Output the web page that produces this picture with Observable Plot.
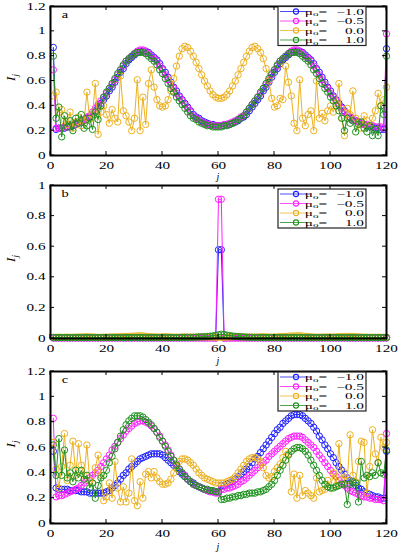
<!DOCTYPE html>
<html><head><meta charset="utf-8">
<script src="https://cdn.jsdelivr.net/npm/d3@7"></script>
<script src="https://cdn.jsdelivr.net/npm/@observablehq/plot@0.6"></script>
<style>body{margin:0;background:#fff;} #chart svg{display:block;}</style>
</head><body><div id="chart"></div>
<script>
const seriesNames = ["\u22121.0", "\u22120.5", "0.0", "1.0"];
const seriesColors = ["#2020ff", "#ff20ff", "#EDB120", "#1f921f"];
const xTicks = [0, 20, 40, 60, 80, 100, 120];
const yTicksAC = [0, 0.2, 0.4, 0.6, 0.8, 1, 1.2];
const yTicksB = [0, 0.2, 0.4, 0.6, 0.8, 1];
const panelLetters = ["a", "b", "c"];

// Panel a
const aBlue = [0.87,0.21,0.22,0.22,0.22,0.23,0.23,0.24,0.25,0.26,
 0.27,0.28,0.30,0.31,0.33,0.36,0.39,0.42,0.45,0.48,
 0.52,0.55,0.59,0.63,0.67,0.70,0.74,0.77,0.79,0.81,
 0.83,0.84,0.84,0.84,0.83,0.81,0.79,0.77,0.74,0.70,
 0.67,0.63,0.59,0.55,0.52,0.48,0.45,0.42,0.39,0.36,
 0.33,0.31,0.30,0.28,0.27,0.26,0.25,0.25,0.24,0.24,
 0.24,0.24,0.25,0.25,0.26,0.27,0.28,0.30,0.31,0.33,
 0.36,0.39,0.42,0.45,0.48,0.52,0.55,0.59,0.63,0.67,
 0.70,0.74,0.77,0.79,0.81,0.83,0.84,0.84,0.84,0.83,
 0.81,0.79,0.77,0.74,0.70,0.67,0.63,0.59,0.55,0.52,
 0.48,0.45,0.42,0.39,0.36,0.33,0.31,0.30,0.28,0.27,
 0.26,0.25,0.24,0.23,0.23,0.22,0.22,0.21,0.21,0.86];
const aMagenta = [0.69,0.22,0.22,0.22,0.23,0.23,0.24,0.25,0.26,0.27,
 0.28,0.29,0.31,0.32,0.35,0.38,0.41,0.44,0.47,0.50,
 0.54,0.57,0.61,0.65,0.69,0.72,0.76,0.78,0.80,0.82,
 0.84,0.85,0.85,0.84,0.82,0.80,0.78,0.76,0.72,0.69,
 0.65,0.61,0.57,0.54,0.50,0.47,0.44,0.41,0.38,0.35,
 0.32,0.30,0.29,0.27,0.26,0.25,0.25,0.24,0.24,0.24,
 0.24,0.25,0.25,0.26,0.27,0.28,0.29,0.31,0.32,0.35,
 0.38,0.41,0.44,0.47,0.50,0.54,0.57,0.61,0.65,0.69,
 0.72,0.76,0.78,0.80,0.82,0.84,0.85,0.85,0.84,0.82,
 0.80,0.78,0.76,0.72,0.69,0.65,0.61,0.57,0.54,0.50,
 0.47,0.44,0.41,0.38,0.35,0.33,0.31,0.29,0.28,0.27,
 0.26,0.25,0.25,0.24,0.24,0.23,0.23,0.23,0.22,0.98];
const aOrange = [0.48,0.51,0.35,0.37,0.28,0.25,0.35,0.22,0.27,0.31,
 0.24,0.28,0.51,0.29,0.33,0.58,0.17,0.35,0.40,0.33,
 0.26,0.37,0.30,0.27,0.64,0.36,0.32,0.27,0.20,0.30,
 0.61,0.20,0.47,0.25,0.58,0.69,0.55,0.45,0.40,0.39,
 0.40,0.45,0.52,0.62,0.72,0.80,0.86,0.88,0.87,0.84,
 0.80,0.75,0.70,0.65,0.60,0.56,0.52,0.49,0.47,0.46,
 0.46,0.47,0.49,0.52,0.56,0.60,0.65,0.70,0.75,0.80,
 0.84,0.87,0.88,0.86,0.83,0.78,0.70,0.60,0.46,0.39,
 0.40,0.46,0.45,0.72,0.59,0.48,0.26,0.20,0.61,0.30,
 0.24,0.33,0.36,0.20,0.60,0.30,0.34,0.28,0.36,0.40,
 0.35,0.42,0.58,0.30,0.16,0.38,0.33,0.52,0.30,0.25,
 0.22,0.32,0.28,0.24,0.30,0.36,0.50,0.40,0.45,0.55];
const aGreen = [0.80,0.30,0.39,0.15,0.32,0.23,0.28,0.20,0.30,0.26,
 0.33,0.22,0.24,0.30,0.21,0.35,0.29,0.40,0.47,0.51,
 0.54,0.58,0.62,0.66,0.69,0.73,0.76,0.78,0.80,0.82,
 0.83,0.83,0.83,0.82,0.80,0.78,0.76,0.73,0.69,0.66,
 0.62,0.58,0.54,0.51,0.47,0.44,0.41,0.38,0.35,0.32,
 0.30,0.29,0.27,0.26,0.25,0.24,0.24,0.23,0.23,0.23,
 0.23,0.24,0.24,0.25,0.26,0.27,0.29,0.30,0.32,0.35,
 0.38,0.41,0.44,0.47,0.51,0.54,0.58,0.62,0.66,0.69,
 0.73,0.76,0.78,0.80,0.82,0.83,0.83,0.83,0.82,0.80,
 0.78,0.76,0.73,0.69,0.66,0.62,0.58,0.54,0.51,0.47,
 0.44,0.40,0.36,0.30,0.20,0.30,0.26,0.28,0.19,0.25,
 0.27,0.22,0.19,0.24,0.16,0.21,0.16,0.40,0.33,0.80];

// Panel b
const bBlue = [0.005,0.005,0.005,0.005,0.005,0.005,0.005,0.005,0.005,0.005,
 0.005,0.005,0.005,0.005,0.005,0.005,0.005,0.005,0.005,0.005,
 0.005,0.005,0.005,0.005,0.005,0.005,0.005,0.005,0.005,0.005,
 0.005,0.005,0.005,0.005,0.005,0.005,0.005,0.005,0.005,0.005,
 0.005,0.005,0.005,0.005,0.005,0.005,0.005,0.005,0.005,0.005,
 0.005,0.005,0.005,0.005,0.005,0.005,0.005,0.005,0.004,0.58,
 0.58,0.004,0.005,0.005,0.005,0.005,0.005,0.005,0.005,0.005,
 0.005,0.005,0.005,0.005,0.005,0.005,0.005,0.005,0.005,0.005,
 0.005,0.005,0.005,0.005,0.005,0.005,0.005,0.005,0.005,0.005,
 0.005,0.005,0.005,0.005,0.005,0.005,0.005,0.005,0.005,0.005,
 0.005,0.005,0.005,0.005,0.005,0.005,0.005,0.005,0.005,0.005,
 0.005,0.005,0.005,0.005,0.005,0.005,0.005,0.005,0.005,0.005];
const bMagenta = [0.003,0.003,0.003,0.003,0.003,0.003,0.003,0.003,0.003,0.003,
 0.003,0.003,0.003,0.003,0.003,0.003,0.003,0.003,0.003,0.003,
 0.003,0.003,0.003,0.003,0.003,0.003,0.003,0.003,0.003,0.003,
 0.003,0.003,0.003,0.003,0.003,0.003,0.003,0.003,0.003,0.003,
 0.003,0.003,0.003,0.003,0.003,0.003,0.003,0.003,0.003,0.003,
 0.003,0.003,0.003,0.003,0.003,0.003,0.003,0.003,0.002,0.91,
 0.91,0.002,0.003,0.003,0.003,0.003,0.003,0.003,0.003,0.003,
 0.003,0.003,0.003,0.003,0.003,0.003,0.003,0.003,0.003,0.003,
 0.003,0.003,0.003,0.003,0.003,0.003,0.003,0.003,0.003,0.003,
 0.003,0.003,0.003,0.003,0.003,0.003,0.003,0.003,0.003,0.003,
 0.003,0.003,0.003,0.003,0.003,0.003,0.003,0.003,0.003,0.003,
 0.003,0.003,0.003,0.003,0.003,0.003,0.003,0.003,0.003,0.003];
const bOrange = [0.008,0.008,0.009,0.008,0.008,0.009,0.008,0.008,0.009,0.010,
 0.010,0.011,0.012,0.011,0.010,0.009,0.008,0.008,0.009,0.009,
 0.010,0.010,0.011,0.011,0.012,0.013,0.013,0.014,0.015,0.016,
 0.017,0.018,0.017,0.015,0.013,0.012,0.011,0.010,0.010,0.011,
 0.012,0.011,0.010,0.009,0.009,0.009,0.010,0.011,0.010,0.009,
 0.009,0.009,0.010,0.010,0.011,0.010,0.009,0.009,0.008,0.008,
 0.008,0.008,0.009,0.010,0.011,0.012,0.012,0.011,0.010,0.010,
 0.010,0.009,0.009,0.010,0.011,0.012,0.011,0.010,0.009,0.010,
 0.011,0.012,0.013,0.014,0.015,0.016,0.017,0.018,0.018,0.016,
 0.014,0.013,0.011,0.010,0.009,0.009,0.010,0.010,0.011,0.010,
 0.010,0.011,0.012,0.012,0.013,0.013,0.014,0.013,0.012,0.011,
 0.010,0.009,0.009,0.008,0.008,0.008,0.009,0.008,0.008,0.008];
const bGreen = [0.006,0.006,0.006,0.006,0.006,0.006,0.006,0.006,0.006,0.006,
 0.006,0.006,0.006,0.006,0.006,0.006,0.006,0.006,0.006,0.006,
 0.006,0.006,0.006,0.006,0.006,0.006,0.006,0.006,0.006,0.006,
 0.006,0.006,0.006,0.006,0.006,0.006,0.006,0.006,0.006,0.006,
 0.006,0.006,0.006,0.006,0.006,0.006,0.007,0.007,0.007,0.008,
 0.008,0.009,0.010,0.011,0.012,0.013,0.015,0.017,0.020,0.024,
 0.028,0.026,0.022,0.019,0.016,0.014,0.012,0.011,0.010,0.009,
 0.008,0.008,0.007,0.007,0.007,0.006,0.006,0.006,0.006,0.006,
 0.006,0.006,0.006,0.006,0.006,0.006,0.006,0.006,0.006,0.006,
 0.006,0.006,0.006,0.006,0.006,0.006,0.006,0.006,0.006,0.006,
 0.006,0.006,0.006,0.006,0.006,0.006,0.006,0.006,0.006,0.006,
 0.006,0.006,0.006,0.006,0.006,0.006,0.006,0.006,0.006,0.006];

// Panel c
const cBlue = [0.57,0.28,0.27,0.27,0.27,0.27,0.26,0.26,0.26,0.26,
 0.25,0.25,0.25,0.24,0.24,0.24,0.24,0.24,0.24,0.25,
 0.26,0.28,0.30,0.32,0.35,0.38,0.40,0.43,0.45,0.47,
 0.49,0.51,0.52,0.53,0.54,0.55,0.55,0.55,0.55,0.54,
 0.52,0.50,0.48,0.46,0.44,0.41,0.39,0.37,0.35,0.33,
 0.32,0.30,0.29,0.28,0.27,0.26,0.26,0.25,0.25,0.25,
 0.30,0.30,0.31,0.32,0.33,0.35,0.37,0.39,0.41,0.43,
 0.45,0.48,0.51,0.53,0.56,0.59,0.62,0.65,0.68,0.71,
 0.74,0.76,0.79,0.81,0.83,0.85,0.86,0.86,0.86,0.85,
 0.83,0.81,0.79,0.76,0.73,0.69,0.66,0.62,0.59,0.55,
 0.52,0.48,0.45,0.42,0.39,0.36,0.34,0.32,0.30,0.28,
 0.27,0.25,0.24,0.23,0.22,0.21,0.21,0.20,0.20,0.57];
const cMagenta = [0.83,0.21,0.22,0.22,0.23,0.24,0.25,0.26,0.27,0.28,
 0.30,0.32,0.34,0.36,0.38,0.40,0.42,0.45,0.48,0.51,
 0.54,0.58,0.61,0.64,0.67,0.70,0.73,0.75,0.77,0.79,
 0.80,0.81,0.81,0.80,0.79,0.77,0.75,0.72,0.69,0.65,
 0.62,0.58,0.54,0.50,0.47,0.43,0.40,0.38,0.35,0.33,
 0.31,0.30,0.29,0.28,0.27,0.26,0.25,0.25,0.24,0.24,
 0.27,0.27,0.28,0.28,0.29,0.30,0.31,0.33,0.34,0.36,
 0.38,0.40,0.42,0.44,0.46,0.48,0.50,0.53,0.55,0.57,
 0.59,0.61,0.63,0.65,0.67,0.68,0.69,0.69,0.69,0.68,
 0.66,0.64,0.62,0.60,0.57,0.54,0.51,0.48,0.45,0.42,
 0.39,0.37,0.34,0.32,0.30,0.28,0.26,0.25,0.24,0.23,
 0.22,0.21,0.21,0.20,0.20,0.19,0.19,0.19,0.18,0.71];
const cOrange = [0.64,0.43,0.28,0.45,0.71,0.34,0.46,0.65,0.38,0.63,
 0.46,0.38,0.62,0.34,0.32,0.44,0.54,0.38,0.18,0.21,
 0.32,0.20,0.49,0.28,0.17,0.29,0.17,0.24,0.51,0.18,
 0.14,0.33,0.20,0.39,0.41,0.36,0.41,0.36,0.33,0.31,
 0.31,0.32,0.35,0.40,0.45,0.49,0.51,0.51,0.50,0.48,
 0.46,0.43,0.40,0.38,0.36,0.35,0.34,0.33,0.32,0.32,
 0.32,0.32,0.33,0.34,0.35,0.37,0.40,0.43,0.46,0.49,
 0.51,0.52,0.52,0.51,0.49,0.44,0.38,0.36,0.37,0.41,
 0.44,0.47,0.52,0.57,0.55,0.25,0.39,0.20,0.38,0.22,
 0.26,0.24,0.22,0.20,0.36,0.25,0.26,0.27,0.34,0.28,
 0.40,0.30,0.63,0.35,0.40,0.34,0.70,0.38,0.33,0.49,
 0.65,0.64,0.24,0.45,0.74,0.55,0.48,0.68,0.60,0.64];
const cGreen = [0.62,0.38,0.67,0.38,0.58,0.36,0.40,0.33,0.42,0.36,
 0.42,0.35,0.38,0.28,0.32,0.20,0.30,0.36,0.38,0.42,
 0.48,0.53,0.59,0.64,0.69,0.74,0.78,0.81,0.83,0.85,
 0.85,0.85,0.84,0.82,0.80,0.78,0.75,0.72,0.68,0.65,
 0.61,0.57,0.53,0.50,0.46,0.43,0.40,0.37,0.35,0.33,
 0.31,0.30,0.29,0.28,0.27,0.27,0.26,0.26,0.25,0.25,
 0.19,0.19,0.20,0.20,0.21,0.21,0.22,0.22,0.23,0.23,
 0.24,0.24,0.24,0.25,0.25,0.26,0.27,0.29,0.31,0.34,
 0.38,0.42,0.46,0.50,0.54,0.57,0.59,0.60,0.60,0.59,
 0.57,0.54,0.50,0.46,0.42,0.38,0.34,0.31,0.29,0.28,
 0.28,0.29,0.30,0.31,0.31,0.15,0.31,0.33,0.32,0.17,
 0.49,0.36,0.38,0.37,0.40,0.38,0.48,0.40,0.39,0.58];

const FONT = "Liberation Serif, Times New Roman, serif";
const STRETCH = 1.6;

function stretch(nodes, k) {
  nodes.forEach(node => {
    const w = node.getComputedTextLength();
    if (w > 0) {
      node.setAttribute("textLength", (w * k).toFixed(1));
      node.setAttribute("lengthAdjust", "spacingAndGlyphs");
    }
  });
}

function panel({letter, series, yDomain, yTicks, height, mt, mb, legendDy, xLabelDy}) {
  const marks = [];
  series.forEach((arr, k) => {
    const rows = arr.map((v, i) => ({j: i + 1, v, s: seriesNames[k]}));
    marks.push(Plot.line(rows, {x: "j", y: "v", stroke: "s", strokeWidth: 1}));
    marks.push(Plot.dot(rows, {x: "j", y: "v", stroke: "s", r: 3.2, strokeWidth: 1, fill: "none"}));
  });
  marks.push(Plot.frame({stroke: "#000", strokeWidth: 2}));
  const plot = Plot.plot({
    width: 398, height, marginLeft: 50, marginRight: 12, marginTop: mt, marginBottom: mb,
    style: {fontFamily: FONT, fontSize: "9.5px", color: "#000", background: "#fff", overflow: "visible"},
    x: {domain: [0, 120], ticks: xTicks, tickSize: 0, tickPadding: 7, label: null},
    y: {domain: yDomain, ticks: yTicks, tickSize: 0, tickPadding: 5, tickFormat: d3.format("~g"), label: null},
    color: {domain: seriesNames, range: seriesColors},
    marks
  });
  document.getElementById("chart").appendChild(plot);
  const svg = d3.select(plot);
  svg.selectAll("text").attr("font-family", FONT).attr("font-size", 9.5).style("font-variant", "normal");
  stretch(svg.selectAll("text").nodes(), STRETCH);

  const xs = plot.scale("x"), ys = plot.scale("y");
  const [x0, x1] = xs.range;
  const [yb, yt] = ys.range;
  const g = svg.append("g").attr("stroke", "#000").attr("stroke-width", 1);
  xTicks.forEach(t => {
    const px = xs.apply(t);
    g.append("line").attr("x1", px).attr("x2", px).attr("y1", yb).attr("y2", yb - 4);
    g.append("line").attr("x1", px).attr("x2", px).attr("y1", yt).attr("y2", yt + 4);
  });
  yTicks.forEach(t => {
    const py = ys.apply(t);
    g.append("line").attr("x1", x0).attr("x2", x0 + 4).attr("y1", py).attr("y2", py);
    g.append("line").attr("x1", x1).attr("x2", x1 - 4).attr("y1", py).attr("y2", py);
  });
  // panel letter
  const pl = svg.append("text").attr("x", x0 + 15).attr("y", yt + 11.5).attr("font-family", FONT)
    .attr("font-size", 11).text(letter);
  stretch([pl.node()], 1.3);
  // x label
  svg.append("text").attr("x", (x0 + x1) / 2).attr("y", yb + xLabelDy).attr("text-anchor", "middle")
    .attr("font-family", FONT).attr("font-size", 10).attr("font-style", "italic").text("j");
  // y label
  const yl = svg.append("text").attr("transform", `translate(15,${(yb + yt) / 2 - 3}) rotate(-90)`)
    .attr("text-anchor", "middle").attr("font-family", FONT).attr("font-size", 13).attr("font-style", "italic");
  yl.append("tspan").text("I");
  yl.append("tspan").attr("dy", 3).attr("font-size", 9).text("j");
  // legend
  const lx = x1 - 108, ly = yt + legendDy, lw = 88, lh = 39;
  const lg = svg.append("g");
  lg.append("rect").attr("x", lx).attr("y", ly).attr("width", lw).attr("height", lh)
    .attr("fill", "#fff").attr("stroke", "#222").attr("stroke-width", 1.2);
  seriesNames.forEach((name, k) => {
    const cy = ly + 5 + k * 9.5;
    lg.append("line").attr("x1", lx + 2).attr("x2", lx + 32).attr("y1", cy).attr("y2", cy)
      .attr("stroke", seriesColors[k]).attr("stroke-width", 1).attr("stroke-opacity", 0.8);
    lg.append("circle").attr("cx", lx + 18).attr("cy", cy).attr("r", 2.6).attr("fill", "none")
      .attr("stroke", seriesColors[k]).attr("stroke-width", 1.1);
    const t = lg.append("text").attr("x", lx + 38).attr("y", cy + 3).attr("font-family", FONT).attr("font-size", 9);
    t.append("tspan").text("\u03bc");
    t.append("tspan").attr("dy", 1.5).attr("font-size", 6.5).text("o");
    t.append("tspan").attr("dy", -1.5).text("=");
    const v = lg.append("text").attr("x", lx + 86).attr("y", cy + 3).attr("text-anchor", "end")
      .attr("font-family", FONT).attr("font-size", 9).text(name);
    stretch([t.node(), v.node()], 1.7);
  });
  return plot;
}

panel({letter: panelLetters[0], series: [aBlue, aMagenta, aOrange, aGreen],
  yDomain: [0, 1.2], yTicks: yTicksAC, height: 180, mt: 6, mb: 25, legendDy: 0.5, xLabelDy: 25});
panel({letter: panelLetters[1], series: [bBlue, bMagenta, bOrange, bGreen],
  yDomain: [0, 1], yTicks: yTicksB, height: 185, mt: 5, mb: 27, legendDy: 4, xLabelDy: 26});
panel({letter: panelLetters[2], series: [cBlue, cMagenta, cOrange, cGreen],
  yDomain: [0, 1.2], yTicks: yTicksAC, height: 187, mt: 6, mb: 29, legendDy: 1, xLabelDy: 27});
</script></body></html>
